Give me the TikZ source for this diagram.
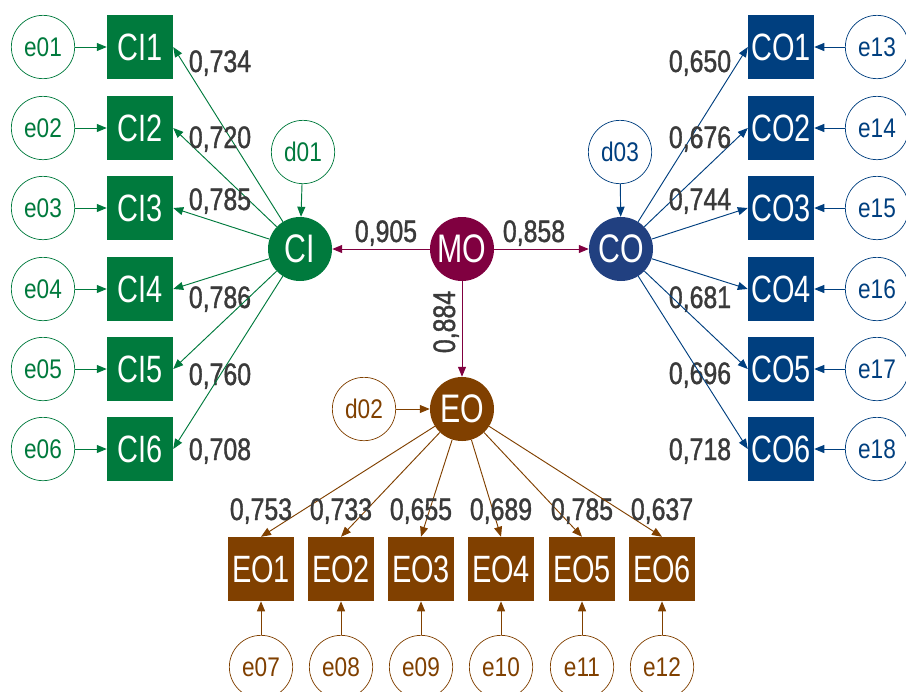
\documentclass[tikz,border=0pt]{standalone}
\usepackage{fontspec}
\setmainfont{Liberation Sans}[FakeStretch=0.84]
\newfontfamily\narrowfont{Liberation Sans}[FakeStretch=0.76]
\newfontfamily\poidsfont{Liberation Sans}[FakeStretch=0.8,FakeBold=1.2]
\usetikzlibrary{arrows.meta}
\definecolor{ciGreen}{RGB}{0,122,61}
\definecolor{coBlue}{RGB}{0,63,127}
\definecolor{coRond}{RGB}{33,64,128}
\definecolor{moRouge}{RGB}{128,0,64}
\definecolor{eoBrun}{RGB}{128,64,0}
\definecolor{gris}{RGB}{58,58,58}
\begin{document}
\begin{tikzpicture}[x=0.03cm,y=-0.03cm]
\tikzstyle{latent} = [circle,inner sep=0pt,minimum size=1.92cm,text=white,font=\narrowfont\fontsize{34}{34}\selectfont]
\tikzstyle{item} = [rectangle,inner sep=0pt,minimum width=1.98cm,minimum height=1.92cm,text=white,font=\narrowfont\fontsize{32.5}{32.5}\selectfont]
\tikzstyle{erreur} = [circle,draw=#1,text=#1,fill=white,inner sep=0pt,minimum size=1.9cm,line width=0.6pt,font=\fontsize{23}{23}\selectfont]
\tikzstyle{poids} = [inner sep=0pt,text height=0.66cm,text depth=0pt,text=gris,font=\poidsfont\fontsize{26.5}{26.5}\selectfont]
\tikzstyle{fleche} = [line width=0.8pt,-{Triangle[length=0.3cm,width=0.24cm]}]
\useasboundingbox (0,0) rectangle (906,691);
%variables latentes
\node[latent,fill=moRouge] (MO) at (462,249) {MO};
\node[latent,fill=ciGreen] (CI) at (300,249) {CI};
\node[latent,fill=coRond] (CO) at (621,249) {CO};
\node[latent,fill=eoBrun] (EO) at (462,409) {EO};
%perturbations
\node[erreur=ciGreen] (d01) at (303,152) {d01};
\node[erreur=eoBrun] (d02) at (364,409) {d02};
\node[erreur=coBlue] (d03) at (620,152) {d03};
\draw[fleche,ciGreen] (d01) -- (CI);
\draw[fleche,eoBrun] (d02) -- (EO);
\draw[fleche,coBlue] (d03) -- (CO);
%effets de MO
\draw[fleche,moRouge] (MO) -- (CI);
\draw[fleche,moRouge] (MO) -- (CO);
\draw[fleche,moRouge] (MO) -- (EO);
\node[poids] (pci) at (386,231) {0,905};
\node[poids] (pco) at (534,231) {0,858};
\node[poids,rotate=90] (peo) at (444,322) {0,884};
%indicateurs CI
\foreach \i/\y/\ly/\w in {1/47/61/{0,734},2/128/137/{0,720},3/208/199/{0,785},4/289/297/{0,786},5/369/374/{0,760},6/449/449/{0,708}}{
  \node[item,fill=ciGreen] (ci\i) at (140,\y) {CI\i};
  \node[erreur=ciGreen] (eci\i) at (43,\y) {e0\i};
  \draw[fleche,ciGreen] (eci\i) -- (ci\i);
  \draw[fleche,ciGreen] (CI) -- (ci\i.east);
  \node[poids] (pci\i) at (220,\ly) {\w};
}
%indicateurs CO
\foreach \i/\y/\ly/\w/\e in {1/47/61/{0,650}/13,2/128/137/{0,676}/14,3/208/199/{0,744}/15,4/289/297/{0,681}/16,5/369/373/{0,696}/17,6/449/449/{0,718}/18}{
  \node[item,fill=coBlue] (co\i) at (781,\y) {CO\i};
  \node[erreur=coBlue] (eco\i) at (877,\y) {e\e};
  \draw[fleche,coBlue] (eco\i) -- (co\i);
  \draw[fleche,coBlue] (CO) -- (co\i.west);
  \node[poids] (pco\i) at (700,\ly) {\w};
}
%indicateurs EO
\foreach \i/\x/\w/\e in {1/261/{0,753}/07,2/341/{0,733}/08,3/421/{0,655}/09,4/501/{0,689}/10,5/582/{0,785}/11,6/662/{0,637}/12}{
  \node[item,fill=eoBrun] (eo\i) at (\x,569) {EO\i};
  \node[erreur=eoBrun] (eeo\i) at (\x,667) {e\e};
  \draw[fleche,eoBrun] (eeo\i) -- (eo\i);
  \draw[fleche,eoBrun] (EO) -- (eo\i.north);
  \node[poids] (peo\i) at (\x,509) {\w};
}
\end{tikzpicture}
\end{document}
